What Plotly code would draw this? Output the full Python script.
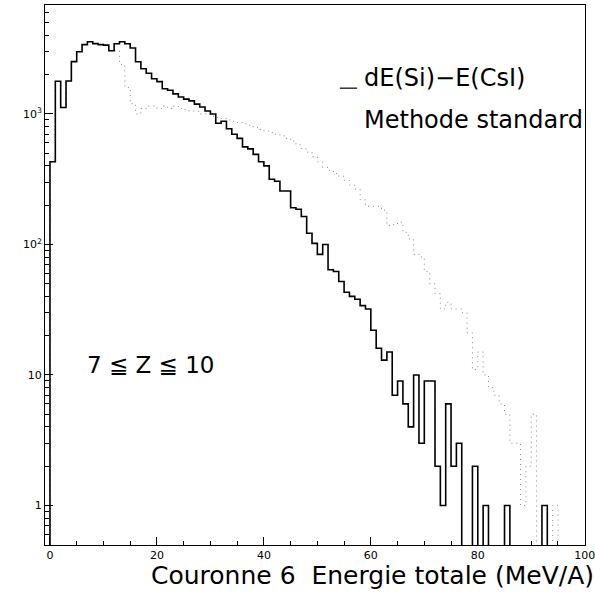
import numpy as np
import plotly.graph_objects as go

# bin lower edges (MeV/A), 1 MeV/A wide bins from 0 to 99
bin_edges = list(range(0, 101))

# solid histogram: dE(Si)-E(CsI)
solid_counts = [
    430, 1780, 1120, 1790, 2520, 3000, 3400, 3580, 3460, 3400,
    3370, 3050, 3450, 3580, 3450, 3200, 2510, 2220, 2050, 1860,
    1770, 1560, 1520, 1425, 1350, 1300, 1260, 1190, 1130, 1055,
    1000, 850, 880, 770, 700, 650, 560, 540, 490, 430,
    400, 316, 305, 257, 257, 191, 186, 164, 122, 102,
    84, 100, 64, 62, 52, 43, 40, 38, 34, 32,
    22, 16, 13, 15, 7, 9, 6, 4, 10, 3,
    9, 9, 2, 1, 6, 2, 3, 0, 0, 2,
    0, 1, 0, 0, 0, 1, 0, 0, 0, 0,
    0, 0, 1, 0, 0, 0, 0, 0, 0, 0,
]

# dotted histogram: Methode standard
dotted_counts = [
    430, 1780, 1120, 1790, 2520, 3000, 3400, 3580, 3460, 3400,
    3370, 3050, 3050, 2400, 1600, 1200, 1000, 1100, 1150, 1150,
    1100, 1150, 1100, 1150, 1100, 1080, 1050, 1050, 1000, 1000,
    960, 940, 920, 900, 880, 860, 840, 820, 790, 760,
    740, 720, 700, 680, 650, 620, 580, 540, 510, 470,
    430, 390, 370, 350, 333, 310, 285, 265, 220, 196,
    196, 196, 183, 140, 142, 148, 124, 110, 84, 80,
    62, 50, 42, 32, 36, 32, 32, 30, 21, 11,
    15, 10, 8, 7, 6, 5, 3, 3, 1, 2,
    5, 0, 0, 0, 1, 0, 0, 0, 0, 0,
]

y_tick_vals = [1, 10, 100, 1000]
y_tick_text = ["1", "10", "10<sup>2</sup>", "10<sup>3</sup>"]
x_tick_vals = [0, 20, 40, 60, 80, 100]

FLOOR = 0.05  # zero-count bins drawn below the visible range


def step_xy(counts):
    c = np.asarray(counts, dtype=float)
    c = np.where(c > 0, c, FLOOR)
    xs = [-1.0] + bin_edges
    ys = [FLOOR] + list(c) + [c[-1]]
    return xs, ys


fig = go.Figure()

xd, yd = step_xy(dotted_counts)
fig.add_trace(go.Scatter(x=xd, y=yd, mode="lines", line_shape="hv",
                         line=dict(color="#8a8a8a", width=1, dash="1px,4px"),
                         showlegend=False, hoverinfo="skip"))

xs, ys = step_xy(solid_counts)
fig.add_trace(go.Scatter(x=xs, y=ys, mode="lines", line_shape="hv",
                         line=dict(color="black", width=1.6),
                         showlegend=False, hoverinfo="skip"))

minor_y = [m * 10 ** d for d in range(-1, 4) for m in range(2, 10)]

fig.update_layout(
    width=595, height=593,
    margin=dict(l=45, r=10, t=5, b=48),
    paper_bgcolor="white", plot_bgcolor="white",
    font=dict(family="DejaVu Sans", color="black"),
    xaxis=dict(range=[-0.93, 100.05], tickvals=x_tick_vals,
               ticks="inside", ticklen=8, tickwidth=1, tickcolor="black",
               minor=dict(dtick=5, ticks="inside", ticklen=4, tickcolor="black"),
               showline=True, linecolor="black", linewidth=1, mirror=True,
               showgrid=False, zeroline=False, automargin=False,
               ticklabeloverflow="allow",
               tickfont=dict(size=11)),
    yaxis=dict(type="log", range=[-0.303, 3.835],
               tickvals=y_tick_vals, ticktext=y_tick_text,
               ticks="inside", ticklen=8, tickwidth=1, tickcolor="black",
               minor=dict(tickvals=minor_y, ticks="inside", ticklen=4, tickcolor="black"),
               showline=True, linecolor="black", linewidth=1, mirror=True,
               showgrid=False, zeroline=False, automargin=False,
               ticklabeloverflow="allow",
               tickfont=dict(size=11)),
)

fig.add_shape(type="line", xref="paper", yref="paper",
              x0=0.546, x1=0.578, y0=0.846, y1=0.846,
              line=dict(color="black", width=1.2))

fig.add_annotation(text="dE(Si)−E(CsI)", xref="paper", yref="paper",
                   x=0.587, y=0.865, xanchor="left", yanchor="middle",
                   showarrow=False, font=dict(size=24))
fig.add_annotation(text="Methode standard", xref="paper", yref="paper",
                   x=0.587, y=0.787, xanchor="left", yanchor="middle",
                   showarrow=False, font=dict(size=24))
fig.add_annotation(text="7 ≦ Z ≦ 10", xref="paper", yref="paper",
                   x=0.074, y=0.333, xanchor="left", yanchor="middle",
                   showarrow=False, font=dict(size=23))
fig.add_annotation(text="Couronne 6\u00a0 Energie totale (MeV/A)", xref="paper", yref="paper",
                   x=1.0204, y=-0.056, xanchor="right", yanchor="middle",
                   showarrow=False, font=dict(size=25))

fig.write_html("out.html",
               config={"displayModeBar": False},
               post_script="document.body.style.margin='0';document.body.style.padding='0';")
